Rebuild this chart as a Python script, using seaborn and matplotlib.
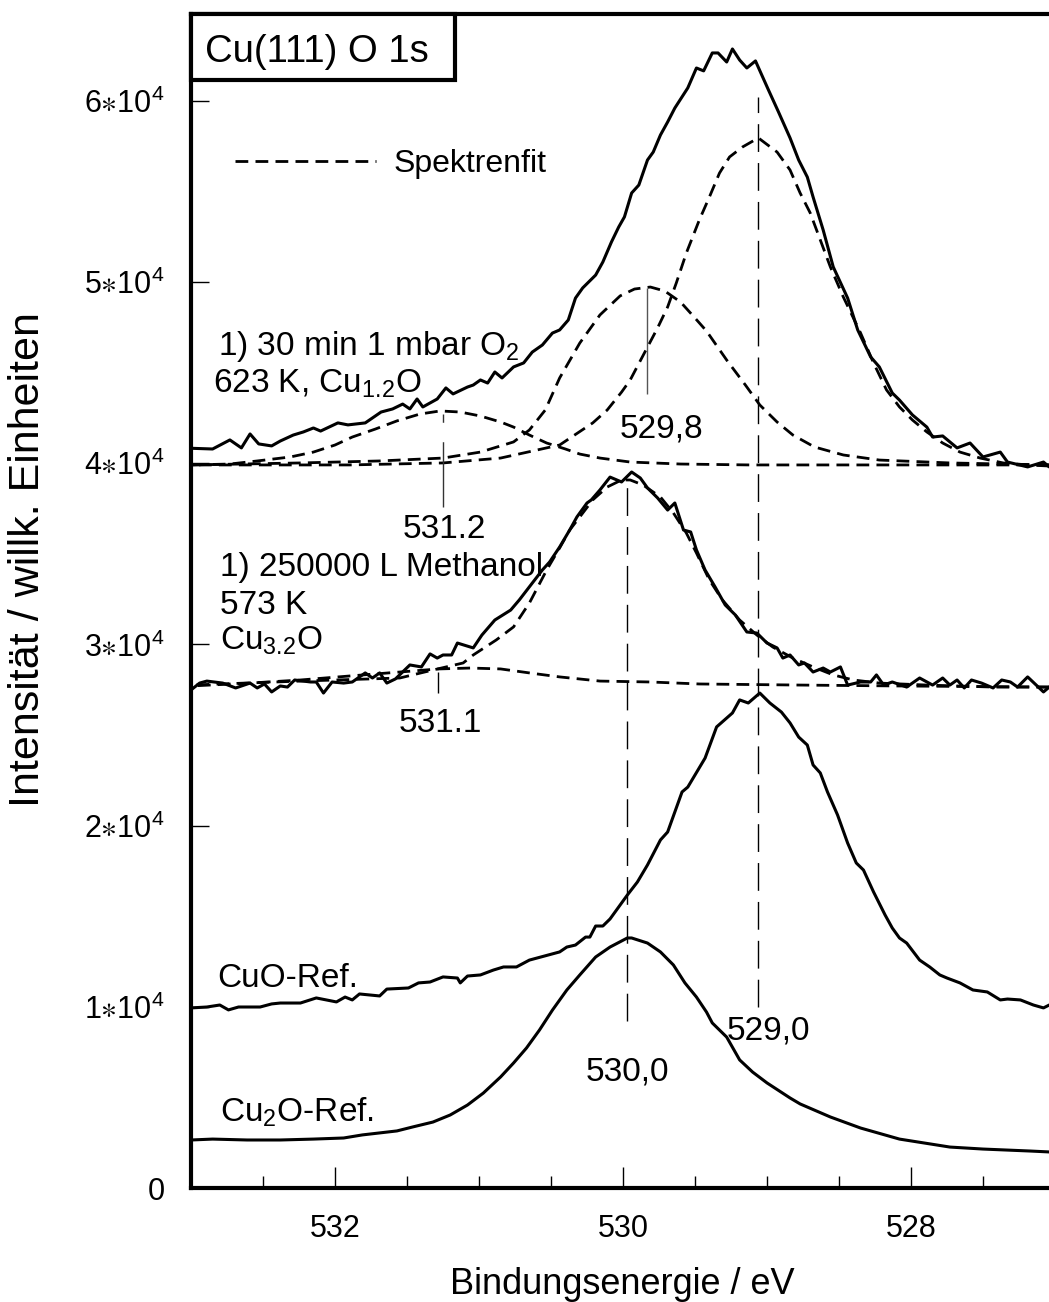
import numpy as np
import pandas as pd
import matplotlib
matplotlib.use("Agg")
import matplotlib.pyplot as plt
from matplotlib.lines import Line2D
from matplotlib.patches import Rectangle
from matplotlib.ticker import FixedLocator, MultipleLocator, FormatStrFormatter
import seaborn as sns

# Bindungsenergie (eV), Intensitaet in 1000 Zaehlern
# 1) 30 min 1 mbar O2, 623 K
o2_spektrum = [(533.00, 40.83), (532.85, 40.79), (532.73, 41.29), (532.65, 40.85), (532.59, 41.62),
               (532.53, 41.07), (532.44, 40.96), (532.38, 41.23), (532.29, 41.56), (532.22, 41.73),
               (532.15, 41.95), (532.10, 41.78), (531.98, 42.23), (531.91, 42.12), (531.79, 42.23),
               (531.68, 42.83), (531.60, 43.00), (531.53, 43.27), (531.48, 43.00), (531.43, 43.55),
               (531.39, 43.11), (531.29, 43.55), (531.23, 44.16), (531.18, 43.83), (531.08, 44.21),
               (531.04, 44.32), (530.99, 44.60), (530.94, 44.43), (530.89, 45.04), (530.84, 44.71),
               (530.76, 45.32), (530.69, 45.54), (530.63, 46.14), (530.56, 46.53), (530.49, 47.19),
               (530.44, 47.36), (530.38, 47.91), (530.33, 49.12), (530.28, 49.68), (530.19, 50.39),
               (530.14, 51.11), (530.08, 52.22), (530.03, 53.04), (529.99, 53.60), (529.94, 54.92),
               (529.89, 55.36), (529.83, 56.74), (529.79, 57.18), (529.74, 58.12), (529.69, 58.84),
               (529.64, 59.61), (529.55, 60.72), (529.49, 61.82), (529.44, 61.66), (529.38, 62.65),
               (529.34, 62.65), (529.28, 62.15), (529.24, 62.87), (529.19, 62.26), (529.14, 61.82),
               (529.08, 62.21), (529.03, 61.32), (528.99, 60.61), (528.92, 59.39), (528.84, 57.96),
               (528.78, 56.74), (528.72, 55.80), (528.68, 54.70), (528.61, 52.88), (528.54, 50.84),
               (528.44, 49.12), (528.37, 47.36), (528.28, 45.87), (528.22, 45.32), (528.13, 43.88),
               (528.08, 43.49), (527.99, 42.67), (527.89, 42.00), (527.85, 41.45), (527.78, 41.51),
               (527.68, 40.85), (527.59, 41.12), (527.50, 40.35), (527.38, 40.62), (527.33, 40.07),
               (527.19, 39.80), (527.08, 40.07), (527.04, 39.80)]

# Fitkomponenten 531.2 / 529.8 / 529.0
o2_fit_a = [(533.00, 39.91), (532.73, 39.96), (532.54, 40.13), (532.31, 40.35), (532.15, 40.62),
            (532.00, 41.01), (531.88, 41.45), (531.72, 41.89), (531.57, 42.34), (531.41, 42.72),
            (531.27, 42.89), (531.13, 42.83), (530.99, 42.61), (530.85, 42.28), (530.76, 42.00),
            (530.65, 41.56), (530.53, 41.12), (530.40, 40.79), (530.30, 40.51), (530.16, 40.29),
            (529.95, 40.07), (529.60, 39.96), (529.12, 39.91), (528.42, 39.91), (527.04, 39.91)]
o2_fit_b = [(533.00, 39.91), (532.24, 40.02), (531.69, 40.13), (531.25, 40.29), (530.99, 40.62),
            (530.76, 41.18), (530.65, 41.84), (530.54, 42.94), (530.44, 44.71), (530.30, 46.64),
            (530.16, 48.19), (530.02, 49.24), (529.92, 49.62), (529.81, 49.73), (529.71, 49.51),
            (529.60, 48.90), (529.50, 48.02), (529.42, 47.30), (529.28, 45.70), (529.15, 44.32),
            (529.05, 43.22), (528.93, 42.28), (528.82, 41.56), (528.67, 40.90), (528.47, 40.46),
            (528.22, 40.18), (527.73, 40.02), (527.04, 39.91)]
o2_fit_c = [(533.00, 39.91), (531.90, 39.91), (531.25, 40.02), (530.85, 40.29), (530.44, 41.01),
            (530.21, 42.23), (530.11, 42.94), (530.01, 43.93), (529.95, 44.60), (529.87, 45.81),
            (529.76, 47.47), (529.69, 48.63), (529.63, 49.95), (529.56, 51.61), (529.47, 53.43),
            (529.40, 54.70), (529.33, 56.02), (529.26, 56.91), (529.17, 57.46), (529.06, 57.96),
            (528.93, 57.18), (528.84, 56.19), (528.77, 54.92), (528.70, 53.82), (528.63, 52.33),
            (528.56, 50.84), (528.47, 49.18), (528.35, 47.19), (528.26, 45.54), (528.17, 44.05),
            (528.08, 43.11), (527.99, 42.39), (527.89, 41.73), (527.78, 41.12), (527.66, 40.62),
            (527.52, 40.29), (527.36, 40.02), (527.19, 39.91), (527.04, 39.85)]

# 1) 250000 L Methanol, 573 K
meth_spektrum = [(533.00, 27.49), (532.94, 27.87), (532.89, 27.98), (532.78, 27.87), (532.69, 27.60),
                 (532.59, 27.87), (532.54, 27.60), (532.49, 27.82), (532.44, 27.38), (532.38, 27.71),
                 (532.33, 27.65), (532.28, 28.04), (532.17, 27.93), (532.13, 27.93), (532.08, 27.32),
                 (532.02, 27.93), (531.94, 27.87), (531.88, 27.93), (531.79, 28.43), (531.74, 28.15),
                 (531.69, 28.43), (531.64, 27.87), (531.58, 28.10), (531.48, 28.87), (531.40, 28.76),
                 (531.34, 29.48), (531.29, 29.25), (531.25, 29.42), (531.19, 29.42), (531.15, 30.08),
                 (531.04, 29.81), (530.98, 30.52), (530.89, 31.35), (530.78, 31.90), (530.72, 32.46),
                 (530.63, 33.39), (530.56, 34.11), (530.51, 34.55), (530.44, 35.38), (530.37, 36.32),
                 (530.32, 37.04), (530.25, 37.81), (530.22, 37.98), (530.16, 38.53), (530.09, 39.24),
                 (530.01, 38.97), (529.94, 39.52), (529.88, 39.19), (529.83, 38.64), (529.76, 38.09),
                 (529.69, 37.42), (529.64, 37.81), (529.58, 36.32), (529.53, 36.21), (529.49, 35.22),
                 (529.43, 34.11), (529.36, 33.17), (529.29, 32.18), (529.22, 31.63), (529.14, 30.69),
                 (529.07, 30.63), (529.00, 30.08), (528.93, 29.81), (528.89, 29.25), (528.84, 29.42),
                 (528.78, 28.87), (528.74, 28.98), (528.68, 28.48), (528.61, 28.70), (528.56, 28.48),
                 (528.49, 28.76), (528.44, 27.76), (528.35, 27.93), (528.28, 27.93), (528.24, 28.32),
                 (528.19, 27.76), (528.13, 27.93), (528.03, 27.65), (527.94, 28.15), (527.85, 27.76),
                 (527.78, 28.15), (527.73, 27.76), (527.68, 28.04), (527.63, 27.60), (527.58, 28.04),
                 (527.51, 27.87), (527.43, 27.60), (527.37, 28.04), (527.31, 27.93), (527.26, 27.65),
                 (527.19, 28.21), (527.08, 27.38), (527.04, 27.65)]
meth_fit = [(533.00, 27.76), (532.24, 27.98), (531.55, 28.15), (531.32, 28.59), (531.11, 28.98),
            (531.04, 29.42), (530.88, 30.25), (530.76, 30.97), (530.65, 32.29), (530.53, 34.11),
            (530.44, 35.33), (530.37, 36.32), (530.30, 37.04), (530.21, 37.98), (530.11, 38.69),
            (530.01, 39.08), (529.95, 39.08), (529.86, 38.80), (529.74, 38.14), (529.65, 37.26),
            (529.56, 36.15), (529.49, 35.05), (529.40, 33.56), (529.31, 32.46), (529.19, 31.35),
            (529.07, 30.52), (528.96, 29.86), (528.82, 29.25), (528.68, 28.76), (528.54, 28.32),
            (528.40, 28.04), (528.22, 27.87), (527.89, 27.76), (527.43, 27.65), (527.04, 27.65)]
meth_fit_531 = [(533.00, 27.71), (532.59, 27.87), (532.24, 28.04), (531.90, 28.26), (531.55, 28.48),
                (531.28, 28.65), (531.06, 28.70), (530.85, 28.65), (530.65, 28.43), (530.44, 28.21),
                (530.16, 27.98), (529.81, 27.93), (529.47, 27.82), (528.77, 27.76), (528.08, 27.71),
                (527.04, 27.65)]

# Referenzspektren
cuo_ref = [(533.00, 9.94), (532.89, 9.99), (532.80, 10.10), (532.74, 9.83), (532.67, 9.99),
           (532.52, 9.99), (532.44, 10.16), (532.38, 10.21), (532.24, 10.21), (532.13, 10.49),
           (531.99, 10.27), (531.93, 10.54), (531.88, 10.38), (531.83, 10.71), (531.69, 10.60),
           (531.64, 10.98), (531.49, 11.04), (531.42, 11.32), (531.34, 11.37), (531.25, 11.65),
           (531.15, 11.59), (531.13, 11.32), (531.08, 11.70), (530.99, 11.76), (530.90, 12.03),
           (530.83, 12.20), (530.74, 12.20), (530.65, 12.58), (530.44, 13.03), (530.39, 13.30),
           (530.33, 13.41), (530.26, 13.85), (530.23, 13.85), (530.19, 14.46), (530.14, 14.46),
           (530.09, 14.85), (530.03, 15.51), (529.97, 16.17), (529.90, 16.89), (529.83, 17.83),
           (529.74, 19.21), (529.69, 19.65), (529.59, 21.86), (529.55, 22.13), (529.43, 23.73),
           (529.35, 25.45), (529.24, 26.22), (529.19, 26.94), (529.13, 26.77), (529.05, 27.32),
           (528.98, 26.77), (528.90, 26.27), (528.84, 25.67), (528.78, 24.89), (528.72, 24.45),
           (528.68, 23.35), (528.63, 22.91), (528.58, 21.86), (528.51, 20.59), (528.44, 19.04),
           (528.38, 17.94), (528.33, 17.55), (528.26, 16.34), (528.18, 15.07), (528.13, 14.35),
           (528.08, 13.80), (528.03, 13.52), (527.94, 12.58), (527.87, 12.20), (527.80, 11.76),
           (527.75, 11.59), (527.66, 11.32), (527.57, 10.93), (527.47, 10.82), (527.38, 10.38),
           (527.33, 10.43), (527.24, 10.38), (527.15, 10.10), (527.08, 9.94), (527.04, 10.10)]
cu2o_ref = [(533.00, 2.65), (532.85, 2.70), (532.61, 2.65), (532.38, 2.65), (532.15, 2.70),
            (531.94, 2.76), (531.81, 2.93), (531.69, 3.04), (531.57, 3.15), (531.46, 3.37),
            (531.32, 3.64), (531.20, 4.03), (531.08, 4.58), (530.97, 5.24), (530.85, 6.13),
            (530.76, 6.90), (530.67, 7.73), (530.58, 8.72), (530.49, 9.82), (530.39, 10.93),
            (530.30, 11.76), (530.19, 12.75), (530.09, 13.30), (529.97, 13.80), (529.94, 13.80),
            (529.83, 13.52), (529.74, 13.03), (529.65, 12.31), (529.57, 11.32), (529.49, 10.54),
            (529.42, 9.71), (529.38, 9.11), (529.28, 8.33), (529.19, 7.07), (529.10, 6.40),
            (529.00, 5.80), (528.84, 4.97), (528.77, 4.64), (528.56, 3.92), (528.35, 3.31),
            (528.08, 2.70), (527.73, 2.26), (527.50, 2.15), (527.17, 2.04), (527.04, 1.99)]

# Peaklagen-Markierungen: Energie, von, bis (in 1000)
marken_E = [529.06, 529.97, 529.83, 531.25, 531.285]
marken_von = [10.0, 9.2, 43.8, 37.6, 27.3]
marken_bis = [60.2, 39.0, 49.7, 42.7, 28.5]

y_ticks = [0, 10000, 20000, 30000, 40000, 50000, 60000]
y_ticklabels = ["0", r"1$\ast$10$^4$", r"2$\ast$10$^4$", r"3$\ast$10$^4$",
                r"4$\ast$10$^4$", r"5$\ast$10$^4$", r"6$\ast$10$^4$"]

sns.set_style("ticks")
plt.rcParams['font.family'] = ['Liberation Sans', 'DejaVu Sans']
plt.rcParams['mathtext.fontset'] = 'custom'
plt.rcParams['mathtext.rm'] = 'Liberation Sans'
plt.rcParams['mathtext.it'] = 'Liberation Sans:italic'
plt.rcParams['mathtext.bf'] = 'Liberation Sans:bold'
plt.rcParams['mathtext.fallback'] = 'stixsans'
plt.rcParams['text.color'] = 'black'
plt.rcParams['axes.labelcolor'] = 'black'
plt.rcParams['xtick.color'] = 'black'
plt.rcParams['ytick.color'] = 'black'

fig = plt.figure(figsize=(10.49, 13.02), dpi=100)
ax = fig.add_axes([191 / 1049, 114 / 1302, 864 / 1049, 1174 / 1302])

fit_stil = (0, (4.6, 2.6))


def zeichne(punkte, gestrichelt=False):
    df = pd.DataFrame(punkte, columns=["E", "I"])
    df["I"] = df["I"] * 1000
    if gestrichelt:
        sns.lineplot(data=df, x="E", y="I", ax=ax, color="black", lw=2.0,
                     estimator=None, linestyle=fit_stil)
    else:
        sns.lineplot(data=df, x="E", y="I", ax=ax, color="black", lw=2.2,
                     estimator=None)


# Spektren
zeichne(o2_spektrum)
zeichne(meth_spektrum)
zeichne(cuo_ref)
zeichne(cu2o_ref)
# Fits
zeichne(o2_fit_a, True)
zeichne(o2_fit_b, True)
zeichne(o2_fit_c, True)
zeichne(meth_fit, True)
zeichne(meth_fit_531, True)

# Markierungen der Peaklagen
stile = [(0, (20, 8)), (0, (20, 8)), "-", (0, (47, 14)), "-"]
farben = ["black", "black", "#555555", "#333333", "black"]
for e, lo, hi, st, fa in zip(marken_E, marken_von, marken_bis, stile, farben):
    ax.vlines(e, lo * 1000, hi * 1000, colors=fa, linestyles=[st], lw=1.0)

# Beschriftungen
texte = [
    ("1) 30 min 1 mbar O$_2$", 532.81, 45.98, "left"),
    ("623 K, Cu$_{1.2}$O", 532.85, 43.88, "left"),
    ("531.2", 531.24, 35.88, "center"),
    ("529,8", 529.73, 41.40, "center"),
    ("1) 250000 L Methanol", 532.80, 33.80, "left"),
    ("573 K", 532.80, 31.68, "left"),
    ("Cu$_{3.2}$O", 532.80, 29.70, "left"),
    ("531.1", 531.27, 25.17, "center"),
    ("CuO-Ref.", 532.82, 11.09, "left"),
    ("Cu$_2$O-Ref.", 532.80, 3.64, "left"),
    ("530,0", 529.97, 5.91, "center"),
    ("529,0", 528.99, 8.17, "center"),
]
for t, x, y, ha in texte:
    ax.text(x, y * 1000, t, ha=ha, va="baseline", fontsize=24, color="black")

# Legende
h = Line2D([], [], color="black", lw=2.0, linestyle=fit_stil)
ax.legend([h], ["Spektrenfit"], loc="center left", bbox_to_anchor=(0.0509, 0.8722),
          frameon=False, borderpad=0, borderaxespad=0, handlelength=4.4,
          handletextpad=0.56, fontsize=23, labelcolor="black")

# Titelkasten
ax.add_patch(Rectangle((0, 0.9438), 0.3056, 0.0562, transform=ax.transAxes,
                       facecolor="white", edgecolor="black", lw=3, clip_on=False, zorder=5))
ax.text(0.0162, 0.9591, "Cu(111) O 1s", transform=ax.transAxes, fontsize=27.5,
        ha="left", va="baseline", zorder=6, color="black")

# Achsen
ax.set_xlim(533, 527)
ax.set_ylim(0, 64800)
ax.xaxis.set_major_locator(MultipleLocator(2))
ax.xaxis.set_minor_locator(MultipleLocator(0.5))
ax.xaxis.set_major_formatter(FormatStrFormatter("%d"))
ax.yaxis.set_major_locator(FixedLocator(y_ticks))
ax.set_yticklabels(y_ticklabels)
ax.tick_params(axis="x", which="major", direction="in", length=15, width=1, pad=19,
               labelsize=22, top=False, colors="black")
ax.tick_params(axis="x", which="minor", direction="in", length=8.6, width=1, top=False,
               colors="black")
ax.tick_params(axis="y", which="major", direction="in", length=13, width=1, pad=19,
               labelsize=22, right=False, colors="black")
for s in ax.spines.values():
    s.set_linewidth(3)
    s.set_color("black")
ax.set_xlabel("")
ax.set_ylabel("")

fig.text(622 / 1049, 1 - 1294 / 1302, "Bindungsenergie / eV", ha="center", va="baseline",
         fontsize=26, color="black")
fig.text(28 / 1049, 1 - 560 / 1302, "Intensität / willk. Einheiten", rotation=90,
         ha="center", va="center", fontsize=31, color="black")

fig.savefig("out.png", dpi=100)
